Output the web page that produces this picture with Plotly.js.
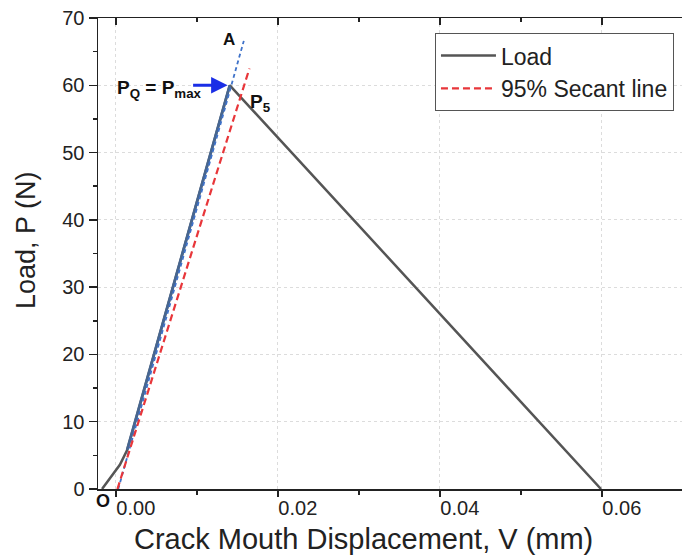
<!DOCTYPE html>
<html>
<head>
<meta charset="utf-8">
<script src="https://cdn.plot.ly/plotly-3.0.1.min.js"></script>
<style>html,body{margin:0;padding:0;overflow:hidden;background:#fff}</style>
</head>
<body>
<div id="chart" style="width:682px;height:557px"></div>
<script>
// Load–CMOD curve
const loadX = [-0.0017, -0.0007, 0.0005, 0.0014, 0.01407, 0.0599];
const loadY = [0, 1.6, 3.6, 5.8, 60, 0];
// linear loading segment (highlighted)
const linX = [0.0014, 0.01407];
const linY = [5.8, 60];
// initial tangent line O–A
const tanX = [0.0003, 0.0158];
const tanY = [0, 66.6];
// 95% secant line
const secX = [0.0002, 0.0165];
const secY = [0, 62.5];

const xTicks = [0, 0.02, 0.04, 0.06];
const xTickText = ['0.00', '0.02', '0.04', '0.06'];
const yTicks = [0, 10, 20, 30, 40, 50, 60, 70];

const FONT = 'Liberation Sans, Arial, sans-serif';

const traces = [
  {x: loadX, y: loadY, mode: 'lines', name: 'Load',
   line: {color: '#555555', width: 2.5}},
  {x: linX, y: linY, mode: 'lines', showlegend: false,
   line: {color: '#476690', width: 2.8}},
  {x: tanX, y: tanY, mode: 'lines', showlegend: false,
   line: {color: '#3f72c9', width: 1.8, dash: '4px,3px'}},
  {x: secX, y: secY, mode: 'lines', name: '95% Secant line',
   line: {color: '#e8363a', width: 2.2, dash: '7px,4px'}},
  {x: [0], y: [0], xaxis: 'x2', mode: 'lines', showlegend: false,
   hoverinfo: 'skip', line: {color: 'rgba(0,0,0,0)', width: 0}}
];

const tickFont = {family: FONT, size: 20, color: '#222'};

const layout = {
  width: 682, height: 557,
  margin: {l: 98, r: 0, t: 18, b: 68},
  paper_bgcolor: '#fff', plot_bgcolor: '#fff',
  showlegend: true,
  legend: {x: 0.577, y: 0.968, xanchor: 'left', yanchor: 'top',
    bgcolor: '#fff', bordercolor: '#555', borderwidth: 1,
    font: {family: FONT, size: 23, color: '#222'},
    itemwidth: 55, tracegroupgap: 0},
  xaxis: {range: [-0.0022, 0.0699], tickvals: xTicks, ticktext: xTickText,
    ticks: 'outside', ticklen: 6, tickwidth: 1.5, tickcolor: '#222',
    ticklabelshift: 20, ticklabelstandoff: -6,
    showline: true, linecolor: '#222', linewidth: 1.5,
    showgrid: true, gridcolor: '#dcdcdc', griddash: 'dot', gridwidth: 1,
    zeroline: false, tickfont: tickFont,
    minor: {tickvals: [0.01, 0.03, 0.05], ticks: 'outside', ticklen: 4, tickwidth: 1.5, tickcolor: '#222', showgrid: false}},
  xaxis2: {matches: 'x', overlaying: 'x', side: 'top', range: [-0.0022, 0.0699],
    tickvals: xTicks, ticks: 'inside', ticklen: 7, tickwidth: 1.5, tickcolor: '#222',
    showticklabels: false, showline: true, linecolor: '#222', linewidth: 1.5,
    showgrid: false, zeroline: false,
    minor: {tickvals: [0.01, 0.03, 0.05], ticks: 'inside', ticklen: 4, tickwidth: 1.5, tickcolor: '#222', showgrid: false}},
  yaxis: {range: [0, 70], tickvals: yTicks,
    ticks: 'outside', ticklen: 8, tickwidth: 1.5, tickcolor: '#222',
    showline: true, linecolor: '#222', linewidth: 1.5,
    showgrid: true, gridcolor: '#dcdcdc', griddash: 'dot', gridwidth: 1,
    zeroline: false, tickfont: tickFont,
    minor: {dtick: 5, ticks: 'outside', ticklen: 4, tickwidth: 1.5, tickcolor: '#222', showgrid: false}},
  annotations: [
    {xref: 'paper', yref: 'paper', x: 0.455, y: -0.068, xanchor: 'center', yanchor: 'top', showarrow: false,
     text: 'Crack Mouth Displacement, V (mm)',
     font: {family: FONT, size: 29, color: '#222'}},
    {xref: 'paper', yref: 'paper', x: -0.123, y: 0.529, xanchor: 'center', yanchor: 'middle',
     textangle: -90, showarrow: false, text: 'Load, P (N)',
     font: {family: FONT, size: 27, color: '#222'}},
    {x: 0.01395, y: 66.8, showarrow: false, text: '<b>A</b>',
     font: {family: FONT, size: 17, color: '#111'}},
    {x: 0.0054, y: 59.4, showarrow: false, text: '<b>P<sub>Q</sub> = P<sub>max</sub></b>',
     font: {family: FONT, size: 19, color: '#111'}},
    {x: 0.01380, y: 60, ax: -36, ay: 0, showarrow: true, text: '',
     arrowcolor: '#1a2ee6', arrowwidth: 3, arrowhead: 2, arrowsize: 1.1},
    {x: 0.0179, y: 57.3, showarrow: false, text: '<b>P<sub>5</sub></b>',
     font: {family: FONT, size: 19, color: '#111'}},
    {xref: 'paper', yref: 'paper', x: 0.0086, y: -0.026, xanchor: 'center', yanchor: 'middle',
     showarrow: false, text: '<b>O</b>',
     font: {family: FONT, size: 18, color: '#111'}}
  ]
};

Plotly.newPlot('chart', traces, layout, {displayModeBar: false, staticPlot: true});
</script>
</body>
</html>
